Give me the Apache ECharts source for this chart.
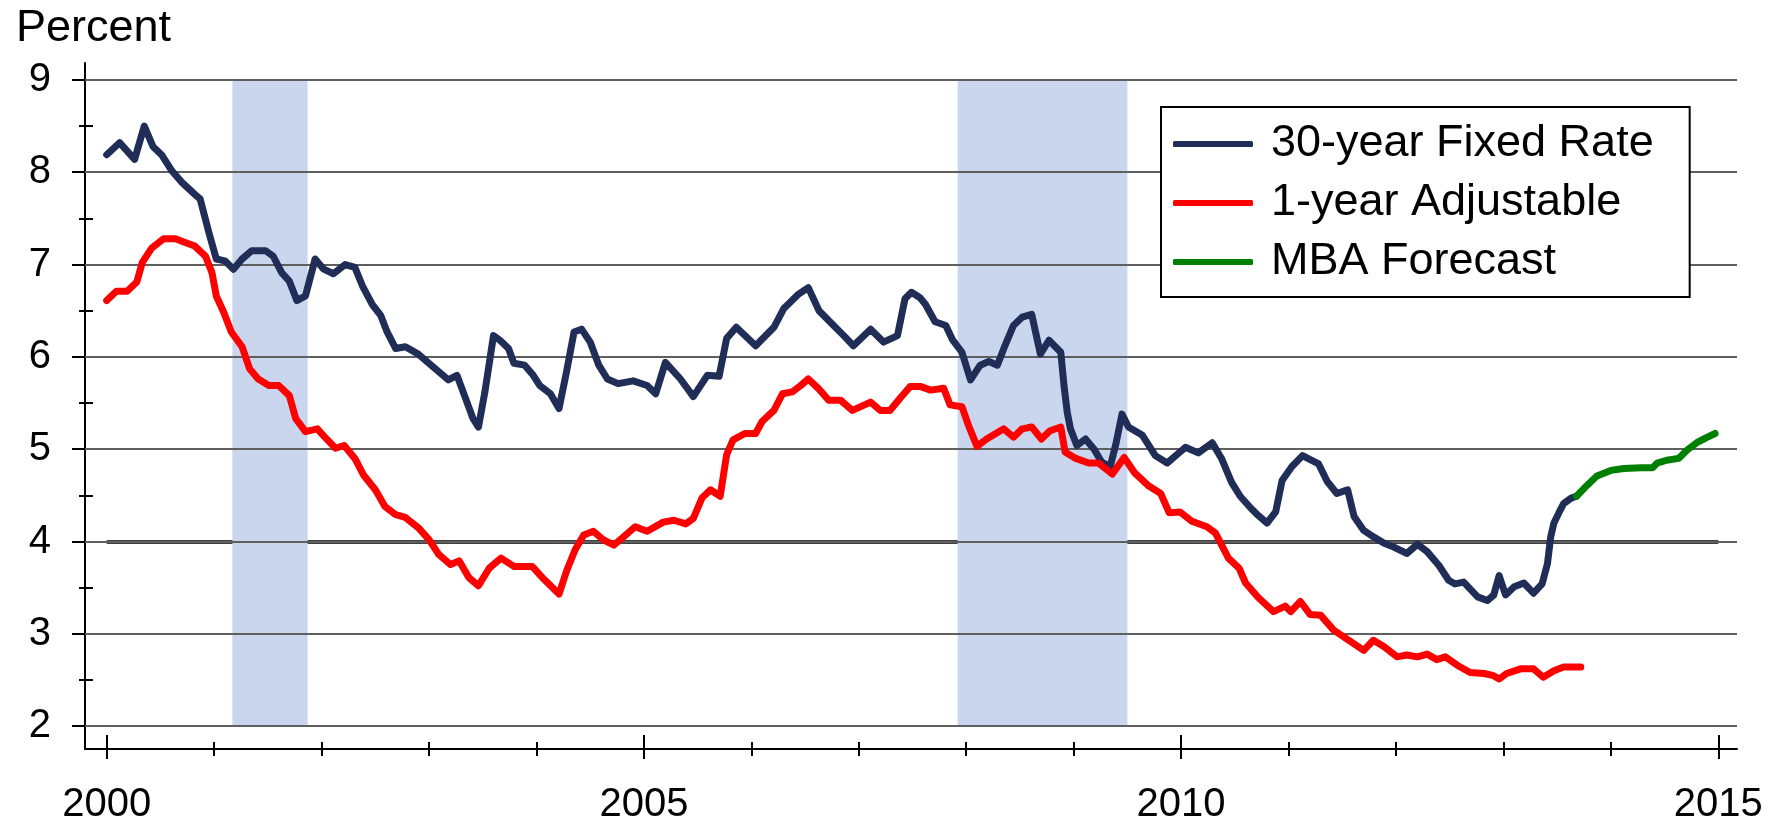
<!DOCTYPE html>
<html>
<head>
<meta charset="utf-8">
<script src="https://cdn.jsdelivr.net/npm/echarts@6/dist/echarts.min.js"></script>
<style>
  html, body { margin: 0; padding: 0; background: #fff; }
  #chart { width: 1774px; height: 825px; }
</style>
</head>
<body>
<div id="chart"></div>
<script>
// ---- data ----
const fixedYears = [2000.00,2000.12,2000.26,2000.35,2000.43,2000.51,2000.61,2000.70,2000.82,2000.87,2000.95,2001.02,2001.10,2001.18,2001.26,2001.35,2001.48,2001.55,2001.63,2001.70,2001.77,2001.85,2001.94,2002.02,2002.11,2002.22,2002.31,2002.38,2002.47,2002.55,2002.61,2002.69,2002.78,2002.90,2003.00,2003.09,2003.18,2003.26,2003.34,2003.41,2003.46,2003.52,2003.60,2003.66,2003.74,2003.79,2003.89,2003.97,2004.03,2004.13,2004.21,2004.28,2004.35,2004.42,2004.50,2004.58,2004.66,2004.76,2004.90,2005.03,2005.11,2005.20,2005.34,2005.46,2005.59,2005.70,2005.77,2005.86,2006.04,2006.21,2006.30,2006.44,2006.53,2006.63,2006.74,2006.86,2006.95,2007.11,2007.23,2007.36,2007.43,2007.49,2007.57,2007.62,2007.71,2007.81,2007.87,2007.96,2008.04,2008.13,2008.21,2008.29,2008.36,2008.44,2008.52,2008.61,2008.69,2008.77,2008.88,2008.91,2008.94,2008.97,2009.03,2009.11,2009.19,2009.26,2009.34,2009.39,2009.45,2009.51,2009.64,2009.76,2009.87,2009.95,2010.04,2010.16,2010.29,2010.38,2010.47,2010.55,2010.65,2010.72,2010.80,2010.88,2010.94,2011.03,2011.13,2011.28,2011.36,2011.45,2011.55,2011.61,2011.70,2011.79,2011.89,2011.98,2012.10,2012.20,2012.29,2012.40,2012.49,2012.55,2012.63,2012.76,2012.85,2012.91,2012.96,2013.02,2013.10,2013.19,2013.28,2013.36,2013.41,2013.44,2013.47,2013.52,2013.56,2013.63,2013.68];
const fixedRates = [8.19,8.32,8.14,8.50,8.28,8.19,8.01,7.89,7.76,7.71,7.35,7.06,7.04,6.95,7.06,7.15,7.15,7.09,6.91,6.82,6.61,6.66,7.06,6.95,6.90,7.00,6.97,6.77,6.57,6.45,6.27,6.09,6.11,6.03,5.93,5.84,5.75,5.80,5.55,5.33,5.24,5.62,6.23,6.18,6.09,5.93,5.91,5.80,5.69,5.60,5.44,5.84,6.27,6.30,6.16,5.91,5.76,5.71,5.74,5.69,5.60,5.94,5.76,5.57,5.80,5.79,6.20,6.32,6.12,6.32,6.52,6.68,6.75,6.50,6.37,6.23,6.12,6.30,6.16,6.23,6.63,6.70,6.64,6.57,6.38,6.34,6.19,6.05,5.75,5.91,5.95,5.91,6.12,6.34,6.43,6.46,6.03,6.18,6.05,5.69,5.40,5.22,5.04,5.11,5.00,4.86,4.81,5.04,5.38,5.24,5.15,4.93,4.85,4.93,5.02,4.96,5.07,4.89,4.64,4.49,4.36,4.28,4.20,4.32,4.66,4.81,4.93,4.84,4.65,4.52,4.56,4.27,4.12,4.05,3.98,3.94,3.87,3.97,3.89,3.74,3.58,3.54,3.56,3.40,3.36,3.42,3.63,3.42,3.51,3.55,3.44,3.54,3.76,4.05,4.20,4.32,4.41,4.47,4.49];

const armYears = [2000.00,2000.09,2000.19,2000.28,2000.33,2000.42,2000.53,2000.64,2000.73,2000.82,2000.92,2000.98,2001.02,2001.09,2001.16,2001.26,2001.33,2001.41,2001.51,2001.60,2001.70,2001.76,2001.85,2001.96,2002.03,2002.13,2002.21,2002.31,2002.39,2002.50,2002.59,2002.69,2002.78,2002.90,2003.00,2003.09,2003.20,2003.28,2003.37,2003.46,2003.56,2003.67,2003.79,2003.96,2004.07,2004.21,2004.28,2004.36,2004.44,2004.53,2004.62,2004.72,2004.81,2004.92,2005.03,2005.18,2005.28,2005.39,2005.46,2005.54,2005.62,2005.71,2005.77,2005.83,2005.94,2006.04,2006.10,2006.21,2006.29,2006.38,2006.46,2006.53,2006.63,2006.72,2006.83,2006.94,2007.11,2007.20,2007.29,2007.39,2007.48,2007.57,2007.67,2007.79,2007.85,2007.96,2008.02,2008.10,2008.19,2008.35,2008.44,2008.52,2008.61,2008.70,2008.78,2008.88,2008.92,2009.02,2009.14,2009.23,2009.36,2009.47,2009.57,2009.70,2009.81,2009.89,2009.99,2010.10,2010.24,2010.32,2010.44,2010.54,2010.60,2010.72,2010.86,2010.97,2011.02,2011.11,2011.20,2011.30,2011.42,2011.51,2011.61,2011.70,2011.79,2011.89,2012.01,2012.10,2012.20,2012.29,2012.38,2012.46,2012.57,2012.69,2012.82,2012.90,2012.96,2013.03,2013.16,2013.28,2013.37,2013.47,2013.56,2013.72];
const armRates = [6.61,6.71,6.71,6.81,7.02,7.18,7.28,7.28,7.24,7.20,7.09,6.91,6.66,6.48,6.27,6.11,5.87,5.76,5.69,5.69,5.58,5.33,5.19,5.22,5.13,5.01,5.04,4.90,4.72,4.56,4.38,4.29,4.26,4.15,4.02,3.86,3.75,3.79,3.61,3.52,3.71,3.82,3.73,3.73,3.59,3.43,3.68,3.91,4.07,4.11,4.02,3.96,4.05,4.16,4.11,4.21,4.23,4.19,4.25,4.47,4.56,4.49,4.94,5.10,5.17,5.17,5.30,5.42,5.60,5.62,5.69,5.76,5.65,5.53,5.53,5.42,5.51,5.42,5.42,5.56,5.68,5.68,5.64,5.66,5.48,5.46,5.26,5.03,5.11,5.22,5.13,5.22,5.24,5.11,5.20,5.24,4.97,4.90,4.85,4.85,4.73,4.91,4.74,4.60,4.52,4.31,4.32,4.22,4.16,4.09,3.82,3.71,3.55,3.39,3.24,3.30,3.24,3.35,3.21,3.20,3.04,2.97,2.89,2.82,2.93,2.86,2.75,2.77,2.75,2.78,2.72,2.75,2.66,2.58,2.57,2.55,2.51,2.57,2.62,2.62,2.53,2.60,2.64,2.64];

const forecastYears = [2013.68,2013.78,2013.87,2014.00,2014.12,2014.28,2014.39,2014.43,2014.52,2014.63,2014.71,2014.80,2014.88,2014.97];
const forecastRates = [4.49,4.61,4.71,4.77,4.79,4.80,4.80,4.85,4.88,4.90,4.99,5.07,5.12,5.17];

const recessions = [[2001.17, 2001.87], [2007.92, 2009.50]];
const refLine = { value: 4, from: 2000, to: 2015 };

const yTicks = [2, 3, 4, 5, 6, 7, 8, 9];
const yMinorTicks = [2.5, 3.5, 4.5, 5.5, 6.5, 7.5, 8.5];
const xLabelYears = [2000, 2005, 2010, 2015];
const xMinorYears = [2001, 2002, 2003, 2004, 2006, 2007, 2008, 2009, 2011, 2012, 2013, 2014];

// ---- layout ----
const FONT = '"Liberation Sans", Arial, sans-serif';
const X_MIN = 1999.798, X_MAX = 2015.174;
const Y_MIN = 1.7519, Y_MAX = 9.1834;

const zip = (xs, ys) => xs.map((x, i) => [x, ys[i]]);

function xAx(opts) {
  return Object.assign({
    type: 'value', min: X_MIN, max: X_MAX, position: 'bottom', offset: 0,
    axisLine: { show: false, onZero: false },
    axisLabel: { show: false },
    splitLine: { show: false }
  }, opts);
}
function yAx(opts) {
  return Object.assign({
    type: 'value', min: Y_MIN, max: Y_MAX, position: 'left', offset: 0,
    axisLine: { show: false, onZero: false },
    axisLabel: { show: false },
    splitLine: { show: false }
  }, opts);
}
const tickStyle = { color: '#000', width: 2 };

const chart = echarts.init(document.getElementById('chart'), null, { renderer: 'canvas' });
chart.setOption({
  animation: false,
  backgroundColor: '#fff',
  textStyle: { fontFamily: FONT },
  title: {
    text: 'Percent', left: 11, top: 1,
    textStyle: { fontFamily: FONT, fontSize: 45, fontWeight: 'normal', color: '#000' }
  },
  grid: { left: 85, right: 37, top: 63, bottom: 73, containLabel: false },
  legend: {
    orient: 'vertical', left: 1161, top: 107,
    padding: [13, 36, 11, 12],
    itemGap: 11, itemWidth: 80, itemHeight: 6,
    icon: 'roundRect',
    backgroundColor: '#fff', borderColor: '#000', borderWidth: 2,
    textStyle: { fontFamily: FONT, fontSize: 45, color: '#000', lineHeight: 48, padding: [0, 0, 0, 13] },
    data: ['30-year Fixed Rate', '1-year Adjustable', 'MBA Forecast'],
    selectedMode: false, z: 10
  },
  xAxis: [
    xAx({
      axisLine: { show: true, onZero: false, lineStyle: { color: '#000', width: 2 } },
      axisTick: { show: true, inside: false, length: 10, lineStyle: tickStyle, customValues: xLabelYears },
      axisLabel: { show: true, customValues: xLabelYears, formatter: v => String(Math.round(v)),
        fontFamily: FONT, fontSize: 40, color: '#000', margin: 36 }
    }),
    xAx({ axisTick: { show: true, inside: true, length: 14, lineStyle: tickStyle, customValues: xLabelYears } }),
    xAx({ axisTick: { show: true, inside: true, length: 7, lineStyle: tickStyle, customValues: xMinorYears } }),
    xAx({ axisTick: { show: true, inside: false, length: 7, lineStyle: tickStyle, customValues: xMinorYears } })
  ],
  yAxis: [
    yAx({
      axisLine: { show: true, onZero: false, lineStyle: { color: '#000', width: 2 } },
      axisTick: { show: true, inside: false, length: 13, lineStyle: tickStyle, customValues: yTicks },
      axisLabel: { show: true, customValues: yTicks, formatter: v => String(Math.round(v)),
        fontFamily: FONT, fontSize: 40, color: '#000', margin: 34 }
    }),
    yAx({ axisTick: { show: true, inside: true, length: 13, lineStyle: tickStyle, customValues: yTicks } }),
    yAx({ axisTick: { show: true, inside: true, length: 8, lineStyle: tickStyle, customValues: yMinorTicks } }),
    yAx({ axisTick: { show: true, inside: false, length: 6, lineStyle: tickStyle, customValues: yMinorTicks } })
  ],
  series: [
    {
      name: 'background', type: 'line', data: [], silent: true, z: 0,
      markArea: {
        silent: true, z: 1,
        itemStyle: { color: '#c9d6ee' },
        data: recessions.map(r => [{ coord: [r[0], yTicks[0]] }, { coord: [r[1], yTicks[yTicks.length - 1]] }])
      },
      markLine: {
        silent: true, z: 0.5, symbol: ['none', 'none'], label: { show: false },
        lineStyle: { color: '#404040', width: 4, type: 'solid' },
        data: [[{ coord: [refLine.from, refLine.value] }, { coord: [refLine.to, refLine.value] }]]
      }
    },
    {
      name: 'gridlines', type: 'line', data: [], silent: true, z: 1,
      markLine: {
        silent: true, z: 1.5, symbol: ['none', 'none'], label: { show: false },
        lineStyle: { color: '#5f5f5f', width: 2, type: 'solid' },
        data: yTicks.map(v => ({ yAxis: v }))
      }
    },
    {
      name: '30-year Fixed Rate', type: 'line', z: 3,
      data: zip(fixedYears, fixedRates),
      showSymbol: false, symbol: 'none',
      itemStyle: { color: '#1f2d57' },
      lineStyle: { color: '#1f2d57', width: 7, cap: 'round', join: 'round' }
    },
    {
      name: '1-year Adjustable', type: 'line', z: 3,
      data: zip(armYears, armRates),
      showSymbol: false, symbol: 'none',
      itemStyle: { color: '#ff0000' },
      lineStyle: { color: '#ff0000', width: 7, cap: 'round', join: 'round' }
    },
    {
      name: 'MBA Forecast', type: 'line', z: 3,
      data: zip(forecastYears, forecastRates),
      showSymbol: false, symbol: 'none',
      itemStyle: { color: '#008000' },
      lineStyle: { color: '#008000', width: 7, cap: 'round', join: 'round' }
    }
  ]
});
</script>
</body>
</html>
